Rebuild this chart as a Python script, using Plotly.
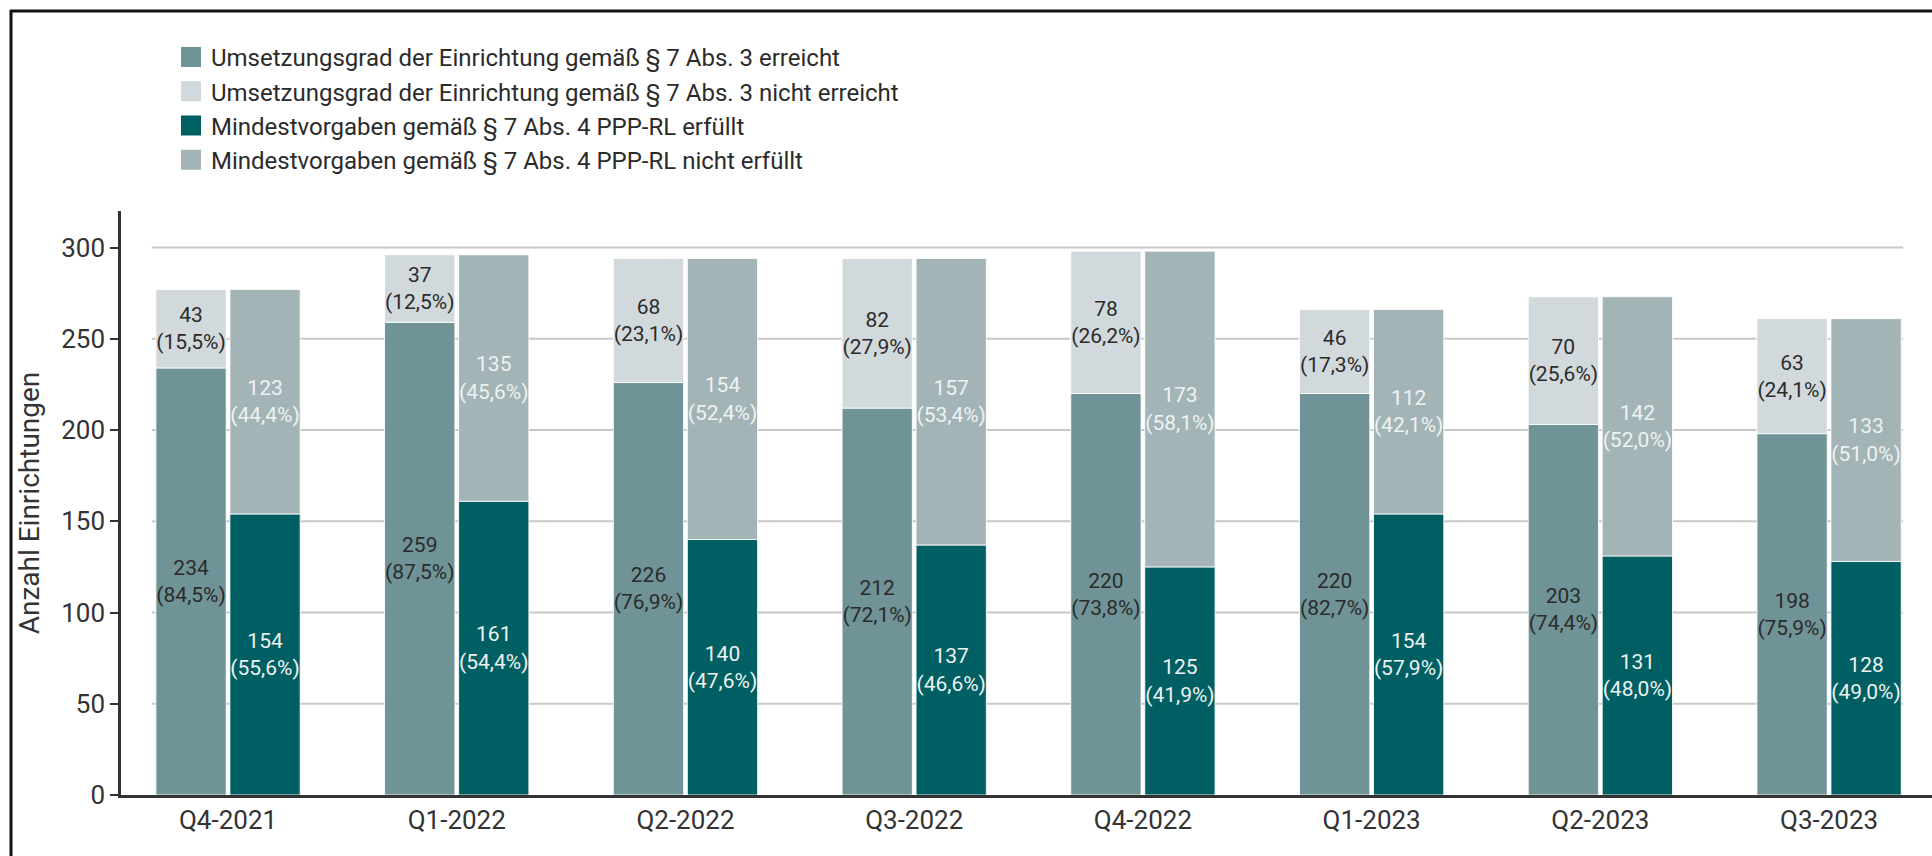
import plotly.graph_objects as go

# ---- data ----
quarters = ["Q4-2021", "Q1-2022", "Q2-2022", "Q3-2022", "Q4-2022", "Q1-2023", "Q2-2023", "Q3-2023"]

umsetz_erreicht = [234, 259, 226, 212, 220, 220, 203, 198]
umsetz_erreicht_pct = [84.5, 87.5, 76.9, 72.1, 73.8, 82.7, 74.4, 75.9]
umsetz_nicht = [43, 37, 68, 82, 78, 46, 70, 63]
umsetz_nicht_pct = [15.5, 12.5, 23.1, 27.9, 26.2, 17.3, 25.6, 24.1]

mindest_erfuellt = [154, 161, 140, 137, 125, 154, 131, 128]
mindest_erfuellt_pct = [55.6, 54.4, 47.6, 46.6, 41.9, 57.9, 48.0, 49.0]
mindest_nicht = [123, 135, 154, 157, 173, 112, 142, 133]
mindest_nicht_pct = [44.4, 45.6, 52.4, 53.4, 58.1, 42.1, 52.0, 51.0]

names = [
    "Umsetzungsgrad der Einrichtung gemäß § 7 Abs. 3 erreicht",
    "Umsetzungsgrad der Einrichtung gemäß § 7 Abs. 3 nicht erreicht",
    "Mindestvorgaben gemäß § 7 Abs. 4 PPP-RL erfüllt",
    "Mindestvorgaben gemäß § 7 Abs. 4 PPP-RL nicht erfüllt",
]
y_ticks = [0, 50, 100, 150, 200, 250, 300]

# ---- style ----
C_ERR = "#6f9396"
C_NERR = "#d1d9dc"
C_ERF = "#005f62"
C_NERF = "#a3b4b7"
DARK_TXT = "#2b2b2b"
LIGHT_TXT = "#eef2f2"
FONT = "Roboto"
W, H = 1932, 856
L, R, T, B = 121, 0, 211, 61
BARGAP = 0.353
XR = [-0.468, 7.45]

pw = W - L - R
ph = H - T - B


def px_x(px):
    return (px - L) / pw


def px_y(py):
    return (H - B - py) / ph


def lab(vals, pcts):
    return [f"{v}<br>({p:.1f}%)".replace(".", ",") for v, p in zip(vals, pcts)]


fig = go.Figure()


def add_bar(y, base, pcts, color, txtcolor, group):
    fig.add_trace(go.Bar(
        x=list(range(len(quarters))), y=y, base=base,
        offsetgroup=group,
        marker=dict(color=color, line=dict(color="rgba(255,255,255,0.85)", width=1)),
        text=lab(y, pcts), textposition="inside", insidetextanchor="middle",
        textangle=0, constraintext="none",
        textfont=dict(family=FONT, size=21, color=txtcolor),
        showlegend=False, hoverinfo="skip",
    ))


add_bar(umsetz_erreicht, None, umsetz_erreicht_pct, C_ERR, DARK_TXT, "U")
add_bar(umsetz_nicht, umsetz_erreicht, umsetz_nicht_pct, C_NERR, DARK_TXT, "U")
add_bar(mindest_erfuellt, None, mindest_erfuellt_pct, C_ERF, LIGHT_TXT, "M")
add_bar(mindest_nicht, mindest_erfuellt, mindest_nicht_pct, C_NERF, LIGHT_TXT, "M")

# legend entries
for nm, col in zip(names, [C_ERR, C_NERR, C_ERF, C_NERF]):
    fig.add_trace(go.Scatter(
        x=[None], y=[None], mode="markers", name=nm,
        marker=dict(symbol="square", size=16, color=col, line=dict(color=col, width=4)),
    ))

# gridlines spanning from first bar to last bar
half = (1 - BARGAP) / 2
for t in y_ticks[1:]:
    fig.add_shape(type="line", xref="x", yref="y", x0=-half - 0.01, x1=len(quarters) - 1 + half,
                  y0=t, y1=t, line=dict(color="#c8c8c8", width=2), layer="below")

# frame (top and left edges)
fig.add_shape(type="line", xref="paper", yref="paper", x0=px_x(10), x1=px_x(W + 5),
              y0=px_y(11), y1=px_y(11), line=dict(color="#111111", width=3))
fig.add_shape(type="line", xref="paper", yref="paper", x0=px_x(11), x1=px_x(11),
              y0=px_y(10), y1=px_y(H + 5), line=dict(color="#111111", width=3))

fig.update_layout(
    width=W, height=H,
    margin=dict(l=L, r=R, t=T, b=B, pad=0),
    paper_bgcolor="white", plot_bgcolor="white",
    barmode="group", bargap=BARGAP, bargroupgap=0.05,
    font=dict(family=FONT, color="#333333", size=24),
    legend=dict(
        x=px_x(171), xanchor="left",
        y=px_y(35), yanchor="top",
        traceorder="normal", font=dict(family=FONT, size=24, color="#2b2b2b"),
        bgcolor="rgba(0,0,0,0)", itemclick=False,
    ),
    xaxis=dict(
        range=XR, tickmode="array", tickvals=list(range(len(quarters))), ticktext=quarters,
        showline=True, linecolor="#333333", linewidth=2.5, ticks="", showgrid=False,
        zeroline=False, tickfont=dict(family=FONT, size=26, color="#333333"),
    ),
    yaxis=dict(
        range=[0, 320], tickmode="array", tickvals=y_ticks,
        showline=True, linecolor="#333333", linewidth=2.5,
        ticks="outside", ticklen=8, tickwidth=2, tickcolor="#333333",
        showgrid=False, zeroline=False,
        tickfont=dict(family=FONT, size=26, color="#333333"),
        title=dict(text="Anzahl Einrichtungen", font=dict(family=FONT, size=28, color="#333333"), standoff=14),
    ),
)

fig.write_html(
    "out.html",
    config={"displayModeBar": False},
    post_script="document.body.style.margin='0';document.body.style.overflow='hidden';",
)
